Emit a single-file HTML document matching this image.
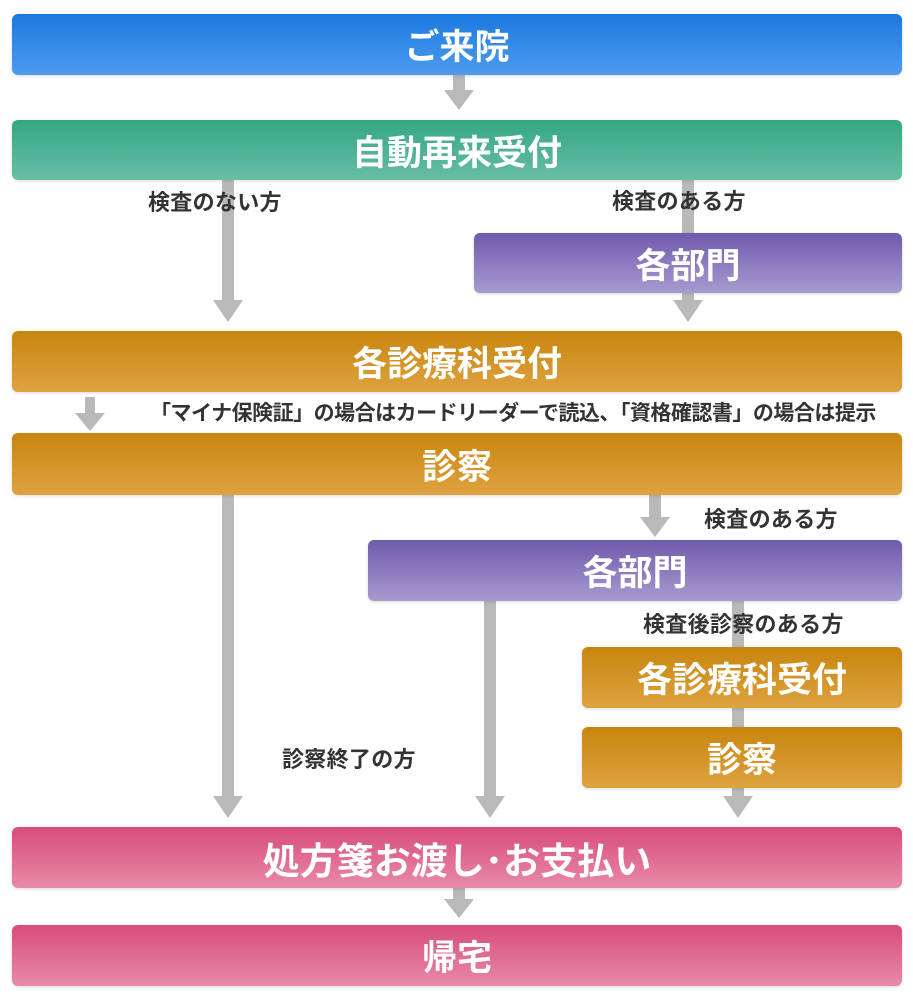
<!DOCTYPE html>
<html><head><meta charset="utf-8"><style>
html,body{margin:0;padding:0;background:#fff;}
body{width:913px;height:995px;position:relative;overflow:hidden;font-family:"Liberation Sans","Noto Sans CJK JP",sans-serif;}
.b{position:absolute;border-radius:6px;color:#fff;font-weight:bold;display:flex;align-items:center;justify-content:center;font-size:35px;box-shadow:0 1px 3px rgba(0,0,0,.15);}
.blue{background:linear-gradient(#1c78df,#4c9cef);}
.green{background:linear-gradient(#34a783,#68bea5);}
.purple{background:linear-gradient(#6f5aad,#a79bd0);}
.orange{background:linear-gradient(#c8860f,#dea23f);}
.pink{background:linear-gradient(#d84c7b,#e88aa8);}
.l{position:absolute;font-weight:bold;font-size:22px;color:#333;white-space:nowrap;line-height:26px;letter-spacing:0.3px;}
svg{position:absolute;left:0;top:0;}
</style></head><body>
<svg width="913" height="995">
<g fill="#b9b9b9">
<rect x="453" y="74" width="12" height="18"/><polygon points="444,90 474,90 459,110"/>
<rect x="222" y="178" width="12" height="124"/><polygon points="213,300 243,300 228,322"/>
<rect x="682" y="178" width="12" height="126"/><polygon points="673,300 703,300 688,322"/>
<rect x="85" y="397" width="10" height="18"/><polygon points="75,413 105,413 90,431"/>
<rect x="649" y="494" width="12" height="25"/><polygon points="640,517 670,517 655,537"/>
<rect x="222" y="494" width="12" height="304"/><polygon points="213,796 243,796 228,818"/>
<rect x="484" y="600" width="12" height="198"/><polygon points="475,796 505,796 490,818"/>
<rect x="732" y="600" width="12" height="198"/><polygon points="723,796 753,796 738,818"/>
<rect x="453" y="887" width="12" height="14"/><polygon points="444,899 474,899 459,918"/>
</g>
</svg>
<div class="b blue" style="left:12px;top:14px;width:890px;height:61px;">ご来院</div>
<div class="b green" style="left:12px;top:120px;width:890px;height:60px;">自動再来受付</div>
<div class="b purple" style="left:474px;top:233px;width:428px;height:60px;">各部門</div>
<div class="b orange" style="left:12px;top:331px;width:890px;height:61px;">各診療科受付</div>
<div class="b orange" style="left:12px;top:433px;width:890px;height:62px;">診察</div>
<div class="b purple" style="left:368px;top:540px;width:534px;height:61px;">各部門</div>
<div class="b orange" style="left:582px;top:647px;width:320px;height:61px;">各診療科受付</div>
<div class="b orange" style="left:582px;top:727px;width:320px;height:61px;">診察</div>
<div class="b pink" style="left:12px;top:827px;width:890px;height:61px;font-size:37px;">処方箋お渡し･お支払い</div>
<div class="b pink" style="left:12px;top:925px;width:890px;height:61px;">帰宅</div>
<div class="l" style="left:148px;top:190px;">検査のない方</div>
<div class="l" style="left:612px;top:189px;">検査のある方</div>
<div class="l" style="left:148px;top:401px;background:#fff;padding:0 2px;font-size:21px;letter-spacing:-0.5px;">「マイナ保険証」の場合はカードリーダーで読込、「資格確認書」の場合は提示</div>
<div class="l" style="left:704px;top:507px;">検査のある方</div>
<div class="l" style="left:643px;top:612px;">検査後診察のある方</div>
<div class="l" style="left:282px;top:747px;">診察終了の方</div>
</body></html>
